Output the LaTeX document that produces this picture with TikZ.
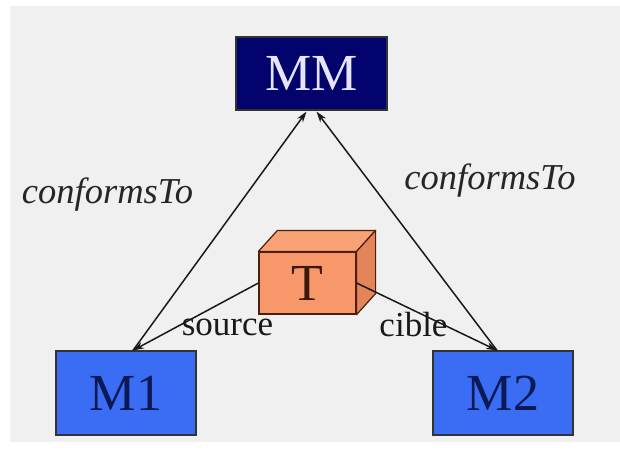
\documentclass[tikz,border=0pt]{standalone}
\usepackage{fontspec}
\setmainfont{Liberation Serif}
\usetikzlibrary{arrows.meta,calc}
\definecolor{mmblue}{HTML}{03036E}
\definecolor{mblue}{HTML}{3A6CF4}
\definecolor{mtext}{HTML}{0B1A55}
\definecolor{tfront}{HTML}{F7976A}
\definecolor{ttop}{HTML}{F9A276}
\definecolor{tside}{HTML}{E3845A}
\definecolor{tedge}{HTML}{4A200C}
\definecolor{bggrey}{HTML}{F0F0F0}
\newcommand{\boxfont}{\fontsize{52}{56}\selectfont}
\newcommand{\lblfont}{\fontsize{35}{40}\selectfont}
\newcommand{\itfont}{\fontsize{36.5}{40}\selectfont\itshape}

\begin{document}
\begin{tikzpicture}[x=1pt,y=1pt,
    model/.style={draw=black!80,line width=1.2pt,minimum width=140pt,minimum height=84pt,
                  fill=mblue,text=mtext,font=\boxfont},
    link/.style={line width=1.5pt,black!90,-{Stealth[length=11pt,width=7pt]}}]
  \useasboundingbox (0,0) rectangle (620,464);
  \fill[bggrey] (10,22) rectangle (620,458);
  \def\dx{19} \def\dy{21}
  % the three models
  \node[model,fill=mmblue,text=white!90!blue,minimum width=151pt,minimum height=73pt]
    (MM) at (311.5,390.5) {MM};
  \node[model] (M1) at (126,71) {M1};
  \node[model] (M2) at (503,71) {M2};
  % transformation box
  \node[draw=tedge,line width=1.2pt,fill=tfront,text=tedge!80!black,font=\boxfont,
        minimum width=97pt,minimum height=62pt,inner sep=0pt] (T) at (307.5,181) {T};
  \filldraw[draw=tedge,fill=ttop,line width=1.2pt,line join=round]
    (T.north west) -- ++(\dx,\dy) -- ($(T.north east)+(\dx,\dy)$) -- (T.north east) -- cycle;
  \filldraw[draw=tedge,fill=tside,line width=1.2pt,line join=round]
    (T.north east) -- ++(\dx,\dy) -- ($(T.south east)+(\dx,\dy)$) -- (T.south east) -- cycle;
  \coordinate (m1top) at ($(M1.north)+(7,0)$);
  \coordinate (m2top) at ($(M2.north)+(-6,0)$);
  \coordinate (mmL) at ($(MM.south)+(-5,-1)$);
  \coordinate (mmR) at ($(MM.south)+(5,-1)$);
  % conformance links
  \draw[link] (m1top) -- (mmL);
  \draw[link] (m2top) -- (mmR);
  \draw[link] (T.west) -- (m1top);
  \draw[link] (T.east) -- (m2top);
  % labels
  \node[anchor=base,font=\itfont,text=black!85] (cfL) at (107.5,261) {conformsTo};
  \node[anchor=base,font=\itfont,text=black!85] (cfR) at (490,274) {conformsTo};
  \node[anchor=base,font=\lblfont,text=black!90] (src) at (227.5,129) {source};
  \node[anchor=base,font=\lblfont,text=black!90] (cib) at (413.5,128) {cible};
\end{tikzpicture}
\end{document}
